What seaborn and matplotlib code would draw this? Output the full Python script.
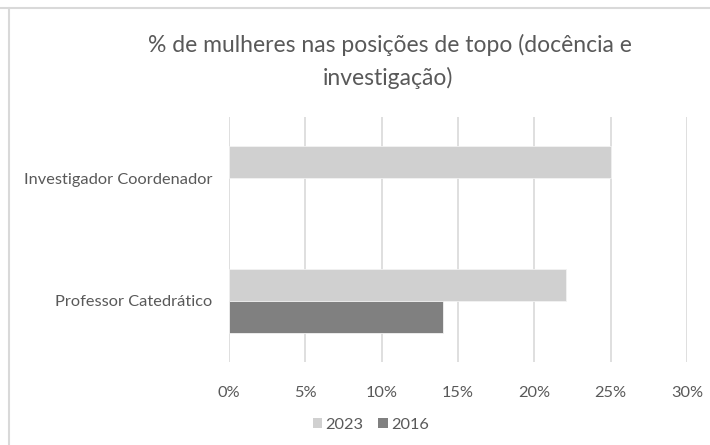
import matplotlib
matplotlib.use("Agg")
import matplotlib.pyplot as plt
from matplotlib.lines import Line2D
from matplotlib.patches import Patch
from matplotlib.ticker import FuncFormatter
import numpy as np
import pandas as pd
import seaborn as sns

# dados
categorias = ["Investigador Coordenador", "Professor Catedrático"]
anos = ["2023", "2016"]
valores_2023 = [25.0, 22.1]
valores_2016 = [np.nan, 14.0]

cores = {"2023": "#d0d0d0", "2016": "#808080"}
cor_texto = "#595959"
cor_grelha = "#d9d9d9"

sns.set_theme(style="white")
plt.rcParams['font.family'] = ['Lato', 'DejaVu Sans']

df = pd.DataFrame({
    "categoria": categorias * 2,
    "ano": ["2023"] * len(categorias) + ["2016"] * len(categorias),
    "valor": valores_2023 + valores_2016,
})

fig = plt.figure(figsize=(7.1, 4.45), dpi=100)
ax = fig.add_axes([229 / 710, 1 - 362 / 445, (687 - 229) / 710, (362 - 117) / 445])

sns.barplot(data=df, y="categoria", x="valor", hue="ano", order=categorias,
            hue_order=anos, palette=cores, width=0.52, orient="h",
            edgecolor="#f2f2f2", linewidth=0.6, legend=False, ax=ax)

ax.set_xlim(0, 30)
ax.set_ylim(1.5, -0.5)
ax.set_xticks(np.arange(0, 31, 5))
ax.xaxis.set_major_formatter(FuncFormatter(lambda v, p: f"{v:.0f}%"))
ax.grid(axis="x", color=cor_grelha, linewidth=1.2)
ax.set_axisbelow(True)
for s in ax.spines.values():
    s.set_visible(False)
ax.set_xlabel("")
ax.set_ylabel("")
ax.tick_params(axis="both", length=0, labelsize=11.8, labelcolor=cor_texto)
ax.tick_params(axis="x", pad=17)
ax.tick_params(axis="y", pad=12)

fig.text(390 / 710, 1 - 45 / 445, "% de mulheres nas posições de topo (docência e",
         ha="center", va="center", fontsize=16.5, color=cor_texto)
fig.text(388 / 710, 1 - 78 / 445, "investigação)",
         ha="center", va="center", fontsize=16.5, color=cor_texto)

handles = [Patch(facecolor=cores[a], edgecolor="none") for a in anos]
fig.legend(handles, anos, loc="center", bbox_to_anchor=(371 / 710, 1 - 425 / 445),
           ncol=2, frameon=False, fontsize=11.8, labelcolor=cor_texto,
           handlelength=0.6, handleheight=0.6, handletextpad=0.2, columnspacing=0.9)

# moldura do gráfico
fig.add_artist(Line2D([0, 1], [1 - 7.5 / 445] * 2, color=cor_grelha, linewidth=1.5,
                      transform=fig.transFigure))
fig.add_artist(Line2D([8.5 / 710] * 2, [0, 1 - 7.5 / 445], color=cor_grelha, linewidth=1.5,
                      transform=fig.transFigure))

fig.savefig("out.png", dpi=100)
